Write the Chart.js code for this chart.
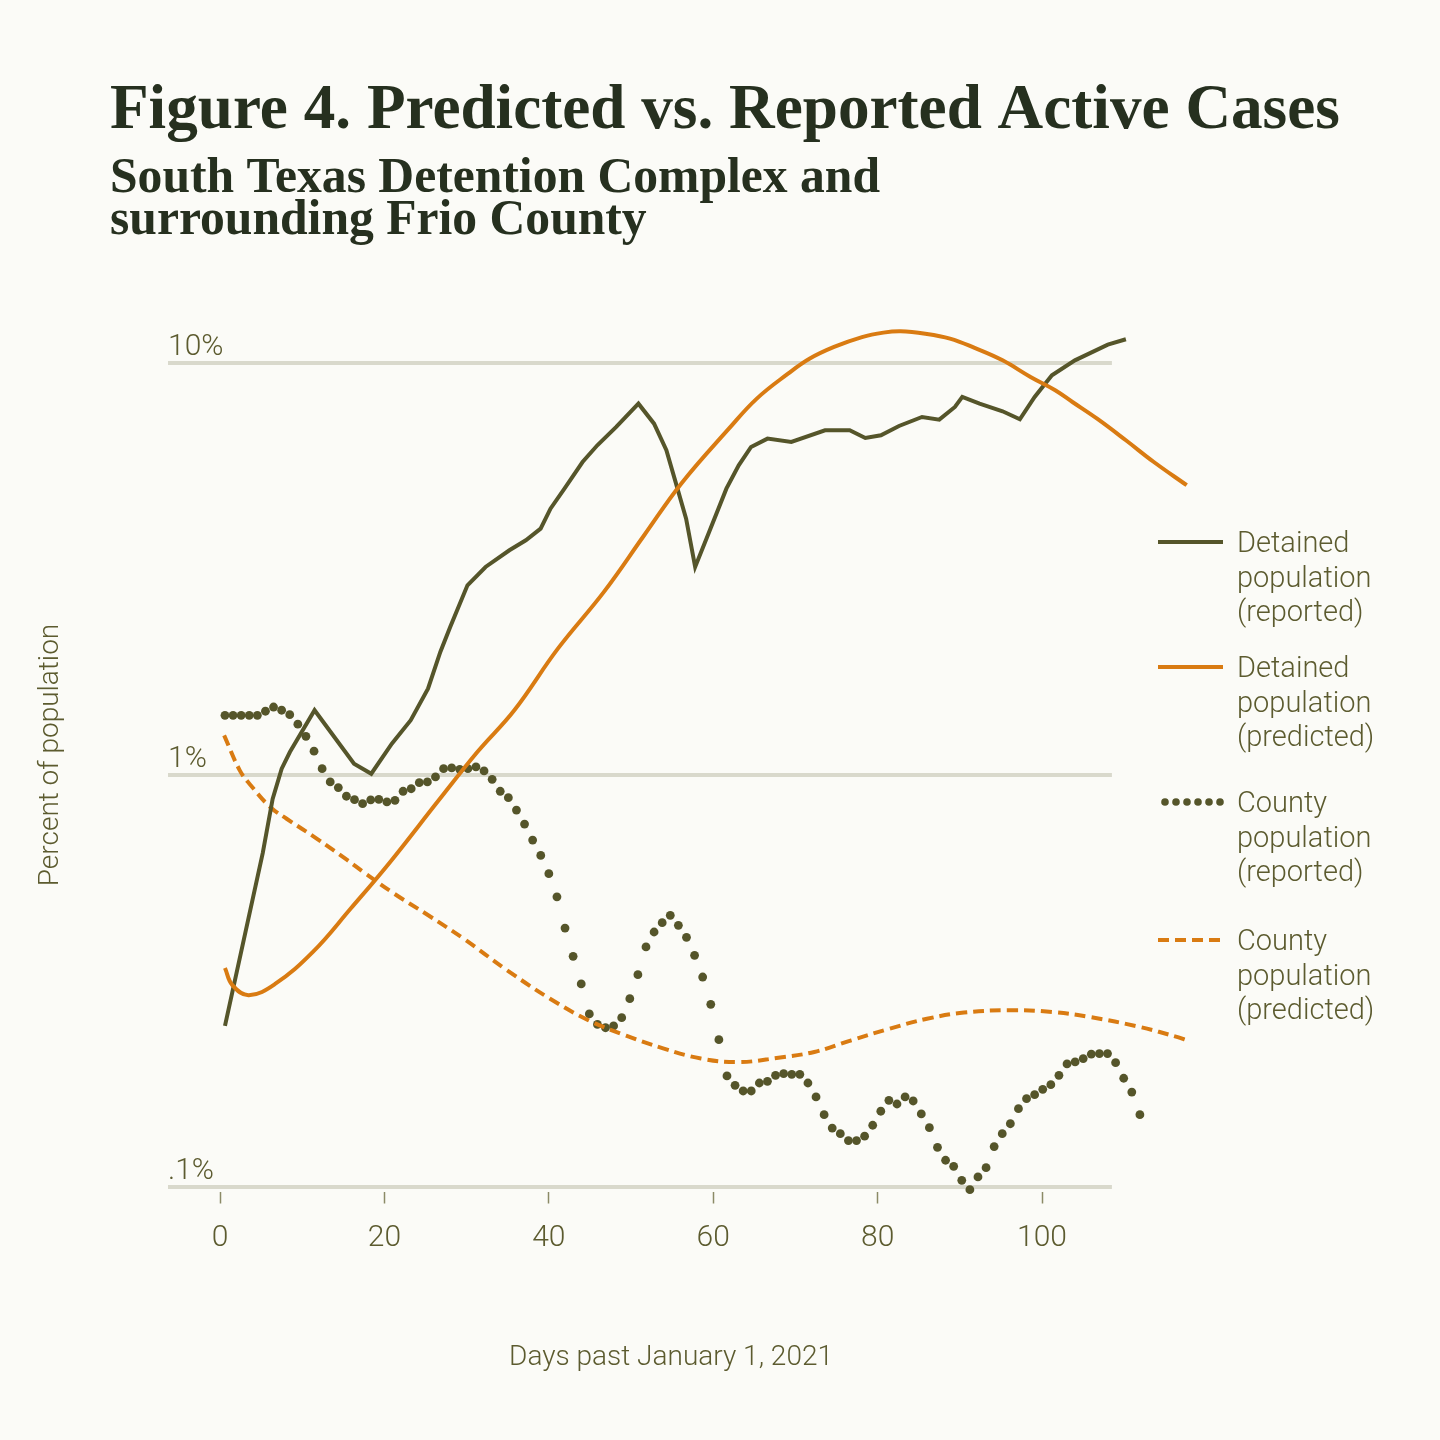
<!DOCTYPE html>
<html>
<head>
<meta charset="utf-8">
<script src="https://cdn.jsdelivr.net/npm/chart.js@4.4.1/dist/chart.umd.min.js"></script>
<style>
  html, body { margin: 0; padding: 0; background: #fbfbf7; }
</style>
</head>
<body>
<canvas id="myChart" width="1440" height="1440"></canvas>
<script>
// Figure 4 - predicted vs reported active cases, values in percent of population

const titleText = 'Figure 4. Predicted vs. Reported Active Cases';
const subtitleLines = ['South Texas Detention Complex and', 'surrounding Frio County'];
const xAxisTitle = 'Days past January 1, 2021';
const yAxisTitle = 'Percent of population';

const xTickValues = [0, 20, 40, 60, 80, 100];
const yTickValues = [0.1, 1, 10];
const yTickLabels = ['.1%', '1%', '10%'];
const gridEndDay = 108.5;   // the horizontal rules stop here, the series run on

// detained population, reported
const detainedReportedDays = [0.6, 5.2, 6.4, 7.5, 8.5, 11.5, 16.3, 18.4, 20.9, 23.2,
    25.3, 26.8, 28.0, 30.1, 32.3, 35.2, 37.2, 39.0, 40.2, 41.9,
    44.1, 45.9, 48.2, 50.9, 52.8, 54.3, 55.3, 56.7, 57.8, 59.5,
    61.6, 63.1, 64.6, 66.6, 69.5, 73.6, 76.6, 78.5, 80.4, 82.6,
    85.4, 87.5, 89.4, 90.3, 92.4, 95.2, 97.3, 99.1, 101.2, 104.0,
    108.0, 110.2];
const detainedReported = [0.246, 0.647, 0.875, 1.036, 1.137, 1.436, 1.065, 1.007, 1.191, 1.358,
    1.620, 1.989, 2.287, 2.886, 3.198, 3.511, 3.713, 3.962, 4.43, 4.954,
    5.75, 6.313, 6.994, 7.966, 7.124, 6.141, 5.24, 4.19, 3.198, 3.889,
    4.954, 5.645, 6.254, 6.552, 6.431, 6.865, 6.865, 6.577, 6.676, 7.033,
    7.396, 7.285, 7.822, 8.272, 7.966, 7.635, 7.30, 8.272, 9.335, 10.15,
    11.08, 11.42];

// detained population, predicted
const detainedPredictedDays = [0.6, 1.5, 3.5, 6.7, 11.3, 15.9, 20.7, 26.6, 31.3, 35.8,
    41.1, 46.7, 51.6, 56.1, 61.9, 65.3, 69.1, 71.7, 74.7, 78.1,
    80.7, 82.8, 85.8, 88.8, 91.8, 95.2, 98.6, 101.6, 103.7, 106.7,
    110.2, 113.6, 117.6];
const detainedPredicted = [0.340, 0.309, 0.292, 0.311, 0.372, 0.474, 0.615, 0.868, 1.137, 1.436,
    2.026, 2.782, 3.818, 5.093, 6.927, 8.195, 9.421, 10.24, 10.94, 11.56,
    11.85, 11.94, 11.78, 11.46, 10.88, 10.15, 9.248, 8.587, 8.04, 7.325,
    6.493, 5.75, 5.05];

// county population, reported (one value per day)
const countyFirstDay = 0.6;
const countyDayStep = 0.985;
const countyReported = [1.396, 1.396, 1.396, 1.396, 1.396, 1.428, 1.462, 1.436, 1.401, 1.328,
    1.241, 1.142, 1.036, 0.962, 0.932, 0.888, 0.871, 0.852, 0.870, 0.873,
    0.860, 0.868, 0.913, 0.926, 0.958, 0.962, 0.989, 1.036, 1.040, 1.032,
    1.036, 1.046, 1.023, 0.976, 0.913, 0.881, 0.822, 0.760, 0.695, 0.638,
    0.576, 0.506, 0.425, 0.363, 0.311, 0.263, 0.248, 0.2435, 0.246, 0.2576,
    0.2864, 0.3275, 0.3825, 0.4158, 0.438, 0.4565, 0.4317, 0.4037, 0.365, 0.3233,
    0.2776, 0.2278, 0.186, 0.1765, 0.171, 0.171, 0.1788, 0.1805, 0.1866, 0.1884,
    0.1877, 0.1877, 0.1788, 0.1654, 0.1498, 0.139, 0.1347, 0.1296, 0.1296, 0.1328,
    0.1412, 0.1527, 0.1623, 0.159, 0.1654, 0.1617, 0.1504, 0.1393, 0.1248, 0.1161,
    0.1122, 0.1038, 0.0985, 0.1058, 0.1114, 0.1253, 0.1347, 0.1424, 0.1549, 0.1638,
    0.1675, 0.1726, 0.1771, 0.1866, 0.1989, 0.2011, 0.2049, 0.21, 0.2107, 0.2107,
    0.2003, 0.1836, 0.170, 0.1498];

// county population, predicted
const countyPredictedDays = [0.5, 2.4, 3.7, 6.1, 8.1, 11.8, 15.5, 17.4, 21.2, 25.0,
    29.6, 34.9, 40.2, 44.8, 49.4, 53.9, 58.5, 63.1, 67.7, 72.3,
    76.8, 81.4, 86.0, 90.5, 95.9, 101.2, 105.8, 111.9, 116.5, 117.5];
const countyPredicted = [1.248, 1.026, 0.946, 0.836, 0.783, 0.700, 0.621, 0.582, 0.515, 0.461,
    0.401, 0.336, 0.286, 0.254, 0.233, 0.217, 0.205, 0.201, 0.2056, 0.2127,
    0.227, 0.242, 0.256, 0.265, 0.2685, 0.266, 0.2586, 0.2445, 0.231, 0.2274];

const legendLines = [
    ['Detained', 'population', '(reported)'],
    ['Detained', 'population', '(predicted)'],
    ['County', 'population', '(reported)'],
    ['County', 'population', '(predicted)']
];

const olive = '#55552a';
const orange = '#d97b12';
const textColor = '#5c5b2f';
const inkColor = '#26301f';
const ruleColor = '#d9d9cc';
const sans = 'Roboto';

function toPoints(days, values) {
    let pts = [];
    for (let i = 0; i < values.length; i++) {
        pts.push({ x: days[i], y: values[i] });
    }
    return pts;
}

let countyDays = [];
for (let i = 0; i < countyReported.length; i++) {
    countyDays.push(countyFirstDay + i * countyDayStep);
}

function fitFont(ctx, text, weight, family, size, width) {
    ctx.font = weight + ' ' + size + 'px "' + family + '"';
    let w = ctx.measureText(text).width;
    let s = size * width / w;
    ctx.font = weight + ' ' + s.toFixed(2) + 'px "' + family + '"';
    return s;
}

// background, short rules, titles, axis titles and the legend on the right
const paperPlugin = {
    id: 'paper',
    beforeDraw(chart) {
        const ctx = chart.ctx;
        ctx.save();
        ctx.fillStyle = '#fbfbf7';
        ctx.fillRect(0, 0, chart.width, chart.height);
        ctx.restore();
    },
    beforeDatasetsDraw(chart) {
        const ctx = chart.ctx;
        const xs = chart.scales.x, ys = chart.scales.y;
        const x0 = chart.chartArea.left;
        const x1 = xs.getPixelForValue(gridEndDay);
        ctx.save();
        ctx.strokeStyle = ruleColor;
        ctx.lineWidth = 4;
        for (let v of yTickValues) {
            const y = ys.getPixelForValue(v);
            ctx.beginPath();
            ctx.moveTo(x0, y);
            ctx.lineTo(x1, y);
            ctx.stroke();
        }
        ctx.restore();
    },
    afterDraw(chart) {
        const ctx = chart.ctx;
        ctx.save();
        ctx.textAlign = 'left';
        ctx.textBaseline = 'alphabetic';
        ctx.fillStyle = inkColor;
        fitFont(ctx, titleText, 'bold', 'Liberation Serif', 56, 1230);
        ctx.fillText(titleText, 110, 128);
        fitFont(ctx, subtitleLines[0], 'bold', 'Liberation Serif', 42, 770);
        ctx.fillText(subtitleLines[0], 110, 192);
        ctx.fillText(subtitleLines[1], 110, 234);

        ctx.fillStyle = textColor;
        ctx.font = '300 28px ' + sans;
        ctx.textAlign = 'center';
        ctx.fillText(xAxisTitle, 671, 1365);
        ctx.save();
        ctx.translate(58, 755);
        ctx.rotate(-Math.PI / 2);
        ctx.fillText(yAxisTitle, 0, 0);
        ctx.restore();

        // legend
        const baselines = [552, 677, 812, 950];
        const lineGap = 34.5;
        const sets = chart.data.datasets;
        for (let k = 0; k < sets.length; k++) {
            const ds = sets[k];
            const idx = ds.legendIndex;
            const y0 = baselines[idx];
            const ys = y0 - 10;
            ctx.save();
            ctx.strokeStyle = ds.borderColor;
            ctx.fillStyle = ds.borderColor;
            ctx.lineWidth = 4;
            if (ds.showLine === false) {
                for (let d = 0; d < 6; d++) {
                    ctx.beginPath();
                    ctx.arc(1165 + d * 11, ys, 3.8, 0, Math.PI * 2);
                    ctx.fill();
                }
            } else {
                ctx.setLineDash(ds.borderDash || []);
                ctx.beginPath();
                ctx.moveTo(1158, ys);
                ctx.lineTo(1223, ys);
                ctx.stroke();
            }
            ctx.restore();
            ctx.fillStyle = textColor;
            ctx.textAlign = 'left';
            ctx.font = '300 29px ' + sans;
            const lines = legendLines[idx];
            for (let j = 0; j < lines.length; j++) {
                ctx.fillText(lines[j], 1237, y0 + j * lineGap);
            }
        }
        ctx.restore();
    }
};

const ctx = document.getElementById('myChart').getContext('2d');
const myChart = new Chart(ctx, {
    type: 'line',
    data: {
        datasets: [{
            label: 'Detained population (predicted)',
            legendIndex: 1,
            data: toPoints(detainedPredictedDays, detainedPredicted),
            borderColor: orange,
            borderWidth: 4,
            tension: 0.4,
            pointRadius: 0,
            clip: false,
            order: 1
        }, {
            label: 'Detained population (reported)',
            legendIndex: 0,
            data: toPoints(detainedReportedDays, detainedReported),
            borderColor: olive,
            borderWidth: 4,
            tension: 0,
            pointRadius: 0,
            clip: false,
            order: 2
        }, {
            label: 'County population (predicted)',
            legendIndex: 3,
            data: toPoints(countyPredictedDays, countyPredicted),
            borderColor: orange,
            borderWidth: 4,
            borderDash: [11, 6],
            tension: 0.4,
            pointRadius: 0,
            clip: false,
            order: 3
        }, {
            label: 'County population (reported)',
            legendIndex: 2,
            data: toPoints(countyDays, countyReported),
            borderColor: olive,
            backgroundColor: olive,
            showLine: false,
            pointRadius: 4.4,
            pointBorderWidth: 0,
            clip: false,
            order: 4
        }]
    },
    options: {
        responsive: false,
        animation: false,
        events: [],
        layout: {
            padding: { top: 324.5, left: 158, right: 250, bottom: 168.5 }
        },
        plugins: {
            legend: { display: false },
            tooltip: { enabled: false }
        },
        scales: {
            x: {
                type: 'linear',
                position: 'bottom',
                min: -6.33,
                max: 118,
                afterBuildTicks: (axis) => { axis.ticks = xTickValues.map(v => ({ value: v })); },
                afterFit: (axis) => { axis.height = 80; },
                grid: {
                    drawOnChartArea: false,
                    drawTicks: true,
                    tickLength: 12,
                    tickColor: '#8b8a66',
                    tickWidth: 1.5
                },
                border: { display: false },
                ticks: {
                    color: textColor,
                    font: { family: sans, size: 30, weight: 300 },
                    padding: 17,
                    maxRotation: 0
                }
            },
            y: {
                type: 'logarithmic',
                min: 0.0975,
                max: 12.4,
                afterBuildTicks: (axis) => { axis.ticks = yTickValues.map(v => ({ value: v })); },
                afterFit: (axis) => { axis.width = 10; },
                grid: { display: false },
                border: { display: false },
                ticks: {
                    mirror: true,
                    padding: 0,
                    labelOffset: -15,
                    color: textColor,
                    font: { family: sans, size: 30, weight: 300 },
                    callback: (v) => yTickLabels[yTickValues.indexOf(v)]
                }
            }
        }
    },
    plugins: [paperPlugin]
});
</script>
</body>
</html>
